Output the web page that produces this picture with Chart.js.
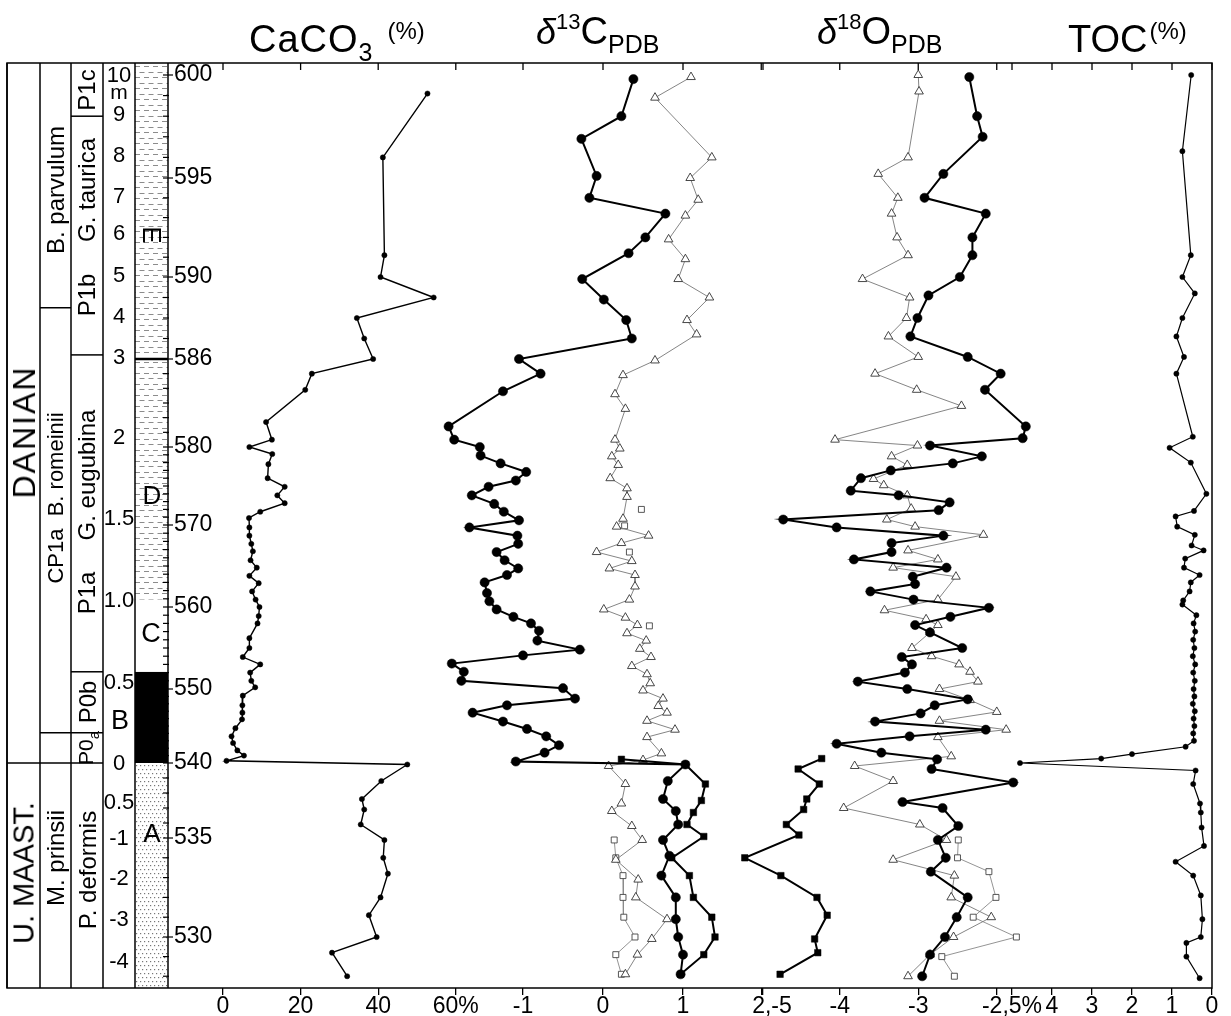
<!DOCTYPE html>
<html>
<head>
<meta charset="utf-8">
<script src="https://cdn.jsdelivr.net/npm/chart.js@4.4.1/dist/chart.umd.min.js"></script>
<style>
  body { margin: 0; background: #fff; overflow: hidden; }
  #fig { position: relative; width: 1231px; height: 1016px; font-family: 'Liberation Sans', Arial, sans-serif; color: #000; }
  #fig canvas { position: absolute; top: 0; }
  .lbl { position: absolute; white-space: nowrap; line-height: 1; }
  .title { position: absolute; top: 12px; font-size: 38px; line-height: 38px; white-space: nowrap; }
  .title sub { font-size: 25px; vertical-align: -9px; line-height: 0; }
  .title sup { font-size: 22px; vertical-align: 15px; line-height: 0; }
  .title .pc { font-size: 24px; vertical-align: 13px; margin-left: 8px; }
  .title i { font-size: 36px; }
</style>
</head>
<body>
<div id="fig">
  <canvas id="base" width="1231" height="1016" style="left:0"></canvas>
  <div class="title" style="left:249px; letter-spacing:1px">CaCO<sub>3</sub><span class="pc" style="margin-left:14px; letter-spacing:0">(%)</span></div>
  <div class="title" style="left:536px"><i>δ</i><sup>13</sup>C<sub>PDB</sub></div>
  <div class="title" style="left:817px"><i>δ</i><sup>18</sup>O<sub>PDB</sub></div>
  <div class="title" style="left:1068px">TOC<span class="pc" style="margin-left:2px">(%)</span></div>
</div>
<script>
// ---- data: [sample number, value] ----
const sampleTicks = [600, 595, 590, 586, 580, 570, 560, 550, 540, 535, 530];
const caco3Ticks = [0, 20, 40, 60];
const d13cTicks = [-1, 0, 1, 2];
const d18oTicks = [-5, -4, -3, -2];
const tocTicks = [5, 4, 3, 2, 1, 0];

const caco3 = [
  [599.1, 52.7], [596.0, 41.2], [591.1, 41.6], [590.0, 40.6], [589.0, 54.3], [588.0, 34.5],
  [587.0, 36.4], [586.0, 38.7], [585.0, 22.9], [583.9, 21.2], [581.7, 11.1], [580.5, 12.6],
  [580.0, 6.8], [579.1, 12.7], [577.8, 11.7], [576.0, 11.5], [574.9, 15.9], [573.8, 14.0],
  [572.8, 15.9], [571.7, 9.6], [570.9, 6.7], [569.7, 6.8], [568.7, 6.8], [567.7, 7.3],
  [566.8, 7.7], [565.7, 7.1], [564.8, 8.7], [563.8, 6.8], [562.9, 9.2], [561.9, 7.5],
  [560.9, 8.4], [560.0, 9.4], [558.9, 9.2], [558.0, 8.9], [556.2, 6.8], [555.0, 6.8],
  [553.9, 5.1], [553.0, 9.6], [552.0, 7.0], [551.0, 7.3], [550.2, 8.3], [549.1, 5.1],
  [547.8, 5.0], [546.8, 5.0], [545.9, 4.9], [544.7, 3.2], [543.6, 2.2], [542.7, 2.6],
  [541.7, 3.7], [541.0, 5.4], [540.3, 0.9], [539.9, 47.5], [538.8, 40.8], [537.6, 35.8],
  [536.9, 36.4], [535.9, 35.5], [534.9, 41.6], [534.0, 41.3], [533.2, 42.5], [532.0, 40.6],
  [531.1, 37.6], [530.0, 39.6], [529.2, 28.1], [528.0, 32.0]
];

const d13cCircles = [
  [599.8, 0.38], [598.0, 0.23], [596.9, -0.27], [595.1, -0.08], [594.0, -0.17], [593.2, 0.78],
  [592.0, 0.53], [591.2, 0.32], [589.9, -0.26], [588.9, 0.01], [587.9, 0.29], [587.0, 0.36],
  [586.0, -1.05], [585.0, -0.78], [583.8, -1.25], [581.4, -1.93], [580.5, -1.86], [580.0, -1.54],
  [578.9, -1.53], [577.9, -1.28], [576.8, -0.96], [575.7, -1.09], [574.9, -1.43], [573.8, -1.64],
  [572.7, -1.36], [571.7, -1.24], [570.6, -1.05], [569.7, -1.67], [568.7, -1.07], [567.7, -1.06],
  [566.7, -1.33], [565.7, -1.23], [564.7, -1.06], [563.9, -1.20], [563.0, -1.48], [561.7, -1.45],
  [560.7, -1.42], [559.7, -1.33], [558.8, -1.12], [558.0, -0.90], [557.1, -0.80], [555.9, -0.82],
  [554.8, -0.29], [554.1, -1.00], [553.1, -1.89], [552.1, -1.74], [551.0, -1.77], [550.1, -0.50],
  [548.7, -0.35], [547.8, -1.20], [546.8, -1.63], [545.6, -1.25], [544.6, -0.95], [543.6, -0.71],
  [542.4, -0.55], [541.4, -0.73], [540.2, -1.09], [539.9, 1.03], [538.8, 0.81], [537.6, 0.75],
  [536.8, 0.91], [535.9, 0.94], [534.9, 0.75], [534.1, 0.83], [533.1, 0.73], [532.0, 0.91],
  [530.9, 0.91], [530.0, 0.94], [529.1, 1.00], [528.1, 0.97]
];
const d13cSquares = [
  [540.5, 0.23], [539.9, 1.03], [538.6, 1.28], [537.5, 1.23], [536.7, 1.13], [535.9, 1.05],
  [535.1, 1.26], [534.0, 0.86], [533.1, 1.08], [532.0, 1.13], [531.0, 1.36], [530.0, 1.40],
  [529.1, 1.26], [528.1, 0.97]
];
const d13cTriangles = [
  [599.9, 1.10], [598.9, 0.65], [596.0, 1.36], [595.0, 1.09], [593.9, 1.19], [593.1, 1.03],
  [591.9, 0.82], [590.9, 1.03], [589.9, 0.94], [589.0, 1.33], [587.9, 1.05], [587.2, 1.17],
  [585.9, 0.65], [584.9, 0.25], [583.6, 0.15], [582.6, 0.28], [580.5, 0.15], [579.8, 0.21],
  [578.8, 0.11], [577.7, 0.19], [576.0, 0.09], [574.7, 0.30], [573.6, 0.30], [570.8, 0.25],
  [569.8, 0.17], [568.7, 0.57], [567.8, 0.23], [566.7, -0.08], [565.6, 0.36], [564.7, 0.08],
  [563.9, 0.40], [562.5, 0.40], [560.9, 0.33], [559.7, 0.01], [558.7, 0.28], [557.8, 0.43],
  [556.8, 0.30], [555.9, 0.54], [554.9, 0.46], [553.9, 0.60], [552.8, 0.36], [551.8, 0.55],
  [550.7, 0.59], [549.8, 0.50], [548.7, 0.75], [547.7, 0.69], [546.8, 0.80], [545.7, 0.55],
  [544.5, 0.90], [543.5, 0.55], [541.3, 0.73], [540.4, 0.50], [539.8, 0.07], [538.6, 0.28],
  [537.3, 0.23], [536.8, 0.11], [535.8, 0.36], [534.9, 0.49], [533.9, 0.16], [532.9, 0.44],
  [532.0, 0.41], [530.9, 0.80], [529.9, 0.61], [529.1, 0.43], [528.1, 0.28]
];
const d13cOpenSquares = [
  [534.9, 0.14], [534.0, 0.16], [533.1, 0.25], [532.0, 0.25], [531.0, 0.26], [530.0, 0.40],
  [529.1, 0.16], [528.1, 0.23]
];
const d13cLooseSquares = [[572.0, 0.48], [569.9, 0.27], [566.7, 0.33], [557.7, 0.58]];

const d18oCircles = [
  [599.9, -2.35], [598.0, -2.25], [597.0, -2.18], [595.2, -2.68], [594.0, -2.92], [593.2, -2.14],
  [592.0, -2.31], [591.1, -2.31], [590.0, -2.47], [589.1, -2.87], [588.0, -3.01], [587.1, -3.10],
  [586.1, -2.37], [585.0, -1.95], [583.9, -2.15], [581.4, -1.63], [580.6, -1.67], [580.1, -2.85],
  [578.8, -2.19], [577.9, -2.56], [577.0, -3.35], [576.0, -3.73], [574.4, -3.86], [573.8, -3.25],
  [572.9, -2.60], [571.9, -2.74], [570.7, -4.72], [569.7, -4.04], [568.7, -2.68], [567.8, -3.34],
  [566.7, -3.34], [565.8, -3.82], [564.8, -2.64], [563.7, -3.07], [562.8, -3.04], [561.9, -3.61],
  [560.9, -3.06], [559.9, -2.10], [558.8, -2.59], [557.8, -3.04], [556.9, -2.85], [555.0, -2.44],
  [553.9, -3.21], [553.0, -3.08], [552.0, -3.17], [550.9, -3.77], [550.0, -3.14], [548.6, -2.37],
  [547.8, -2.79], [546.7, -2.97], [545.6, -3.55], [544.5, -2.14], [543.6, -3.11], [542.6, -4.04],
  [541.4, -3.47], [540.5, -2.76], [539.6, -2.83], [538.7, -1.79], [537.4, -3.20], [537.0, -2.69],
  [535.8, -2.49], [534.9, -2.75], [534.0, -2.65], [533.3, -2.84], [532.0, -2.37], [531.0, -2.51],
  [530.0, -2.66], [529.1, -2.85], [528.0, -2.95]
];
const d18oTriangles = [
  [600.0, -3.00], [599.2, -2.99], [596.0, -3.13], [595.2, -3.51], [594.0, -3.26], [593.2, -3.34],
  [592.0, -3.27], [591.1, -3.13], [589.9, -3.71], [589.0, -3.11], [588.0, -3.15], [587.1, -3.38],
  [586.1, -3.00], [585.0, -3.55], [583.9, -3.02], [582.8, -2.45], [580.5, -4.06], [580.1, -3.01],
  [578.8, -3.34], [577.7, -3.14], [575.9, -3.57], [575.1, -3.44], [573.8, -3.14], [572.1, -3.09],
  [570.7, -3.40], [569.8, -3.04], [568.8, -2.17], [566.9, -3.13], [565.8, -2.75], [564.8, -3.32],
  [563.7, -2.52], [560.9, -2.75], [559.6, -3.43], [558.5, -2.90], [557.8, -2.75], [556.9, -2.85],
  [555.0, -3.08], [554.0, -2.83], [553.0, -2.48], [552.1, -2.34], [550.9, -2.24], [550.0, -2.73],
  [548.5, -2.34], [546.9, -2.00], [545.7, -2.73], [544.5, -1.88], [543.5, -2.75], [540.9, -2.58],
  [539.8, -3.81], [538.8, -3.32], [537.0, -3.95], [535.9, -2.98], [534.9, -2.64], [533.9, -3.32],
  [533.1, -2.54], [532.0, -2.58], [531.0, -2.07], [530.0, -2.55], [529.1, -2.85], [528.0, -3.13]
];
const d18oOpenSquares = [
  [534.9, -2.49], [534.0, -2.50], [533.3, -2.10], [532.0, -2.01], [531.0, -2.30], [530.0, -1.75],
  [529.0, -2.70], [528.0, -2.54]
];
const d18oSquares = [
  [540.6, -4.23], [539.6, -4.53], [538.6, -4.26], [537.6, -4.42], [536.9, -4.46], [535.9, -4.68],
  [535.2, -4.52], [534.0, -5.21], [533.1, -4.75], [532.0, -4.29], [531.1, -4.16], [529.9, -4.32],
  [529.2, -4.28], [528.1, -4.76]
];

const toc = [
  [600.0, 0.52], [596.3, 0.74], [591.1, 0.53], [590.0, 0.74], [589.2, 0.43], [588.0, 0.74],
  [587.1, 0.89], [586.1, 0.70], [585.0, 0.89], [580.7, 0.48], [579.9, 1.06], [578.0, 0.53],
  [574.0, 0.14], [571.8, 0.45], [571.1, 0.91], [569.8, 0.87], [568.8, 0.43], [567.5, 0.51],
  [566.9, 0.21], [565.9, 0.67], [564.8, 0.70], [563.9, 0.31], [563.0, 0.53], [561.9, 0.56],
  [560.8, 0.72], [560.3, 0.74], [559.0, 0.39], [558.0, 0.46], [557.0, 0.42], [556.0, 0.47],
  [555.0, 0.44], [554.0, 0.48], [553.0, 0.42], [552.0, 0.47], [551.0, 0.43], [550.0, 0.46],
  [549.0, 0.44], [548.0, 0.48], [547.0, 0.43], [546.0, 0.46], [545.0, 0.44], [544.0, 0.47],
  [543.0, 0.45], [542.2, 0.66], [541.2, 2.0], [540.6, 2.77], [540.0, 4.8], [539.5, 0.41],
  [538.6, 0.47], [537.3, 0.30], [536.7, 0.28], [535.7, 0.26], [534.6, 0.20], [533.8, 0.91],
  [533.1, 0.47], [532.1, 0.28], [530.9, 0.24], [530.0, 0.28], [529.7, 0.64], [529.0, 0.64],
  [527.9, 0.31]
];

// metre scale labels, placed at the sample they face
const metreLabels = [
  ['10', 600.0], ['m', 599.2], ['9', 598.1], ['8', 596.1], ['7', 594.1], ['6', 592.2],
  ['5', 590.1], ['4', 588.1], ['3', 586.1], ['2', 580.7], ['1.5', 570.9], ['1.0', 560.9],
  ['0.5', 550.9], ['0', 540.0], ['0.5', 537.4], ['-1', 535.0], ['-2', 533.0], ['-3', 530.9],
  ['-4', 528.8]
];
const lithoUnits = [
  { name: 'E', top: 600.6, bottom: 586, fill: 'dash' },
  { name: 'D', top: 586, bottom: 560.9, fill: 'dash' },
  { name: 'C', top: 560.9, bottom: 552.1, fill: 'none' },
  { name: 'B', top: 552.1, bottom: 540, fill: 'solid' },
  { name: 'A', top: 540, bottom: 527.4, fill: 'dot' }
];

// ---- layout ----
const PLOT_TOP = 63, PLOT_BOTTOM = 988, FRAME_LEFT = 7, AXIS_X = 168, FRAME_RIGHT = 1212;
const Y_MIN = 527.4, Y_MAX = 600.6;
const colX = [7, 40, 71, 103, 135, 168];
// the sample axis is not linear: where each labelled sample sits on the page
const knotSample = [600.6, 600, 595, 590, 586, 580, 570, 560, 550, 540, 535, 530, 527.4];
const knotPixel = [63, 75, 178, 277, 359, 447, 525, 607, 689, 763, 838, 937, 988];
const knotDec = knotPixel.map(p => (PLOT_BOTTOM - p) / (PLOT_BOTTOM - PLOT_TOP));
const NARROW = "'Liberation Sans Narrow', 'Liberation Sans', Arial, sans-serif";

class PiecewiseScale extends Chart.LinearScale {
  getPixelForValue(v) {
    if (v === null || v === undefined || isNaN(v)) return NaN;
    let i = 0;
    while (i < knotSample.length - 2 && v < knotSample[i + 1]) i++;
    const t = (v - knotSample[i]) / (knotSample[i + 1] - knotSample[i]);
    return this.getPixelForDecimal(knotDec[i] + t * (knotDec[i + 1] - knotDec[i]));
  }
  getValueForPixel(px) {
    const d = this.getDecimalForPixel(px);
    let i = 0;
    while (i < knotDec.length - 2 && d < knotDec[i + 1]) i++;
    const t = (d - knotDec[i]) / (knotDec[i + 1] - knotDec[i]);
    return knotSample[i] + t * (knotSample[i + 1] - knotSample[i]);
  }
}
PiecewiseScale.id = 'piecewise';
PiecewiseScale.defaults = Chart.LinearScale.defaults;
Chart.register(PiecewiseScale);

const fig = document.getElementById('fig');
function addLabel(html, x, y, size, rotate, family, spacing) {
  const el = document.createElement('div');
  el.className = 'lbl';
  el.innerHTML = html;
  el.style.left = x + 'px';
  el.style.top = y + 'px';
  el.style.fontSize = size + 'px';
  if (family) el.style.fontFamily = family;
  if (spacing) el.style.letterSpacing = spacing + 'px';
  el.style.transform = 'translate(-50%,-50%)' + (rotate ? ' rotate(' + rotate + 'deg)' : '');
  fig.appendChild(el);
}

function line(ctx, x0, y0, x1, y1) {
  ctx.beginPath(); ctx.moveTo(x0, y0); ctx.lineTo(x1, y1); ctx.stroke();
}

const columnPlugin = {
  id: 'column',
  afterDraw(chart) {
    const ctx = chart.ctx;
    const Y = v => chart.scales.y.getPixelForValue(v);
    const x0 = colX[4], x1 = colX[5];
    ctx.save();
    lithoUnits.forEach(u => {
      const top = Y(u.top), bot = Y(u.bottom);
      ctx.save();
      ctx.beginPath(); ctx.rect(x0, top, x1 - x0, bot - top); ctx.clip();
      if (u.fill === 'solid') {
        ctx.fillStyle = '#000'; ctx.fillRect(x0, top, x1 - x0, bot - top);
      } else if (u.fill === 'dash') {
        ctx.strokeStyle = '#8c8c8c'; ctx.lineWidth = 1;
        ctx.beginPath();
        for (let yy = top + 3, row = 0; yy < bot; yy += 5.5, row++) {
          for (let xx = x0 - 9 + (row % 2) * 4.5; xx < x1; xx += 9) {
            ctx.moveTo(xx, Math.round(yy) + 0.5); ctx.lineTo(xx + 5, Math.round(yy) + 0.5);
          }
        }
        ctx.stroke();
      } else if (u.fill === 'dot') {
        ctx.fillStyle = '#777';
        for (let yy = top + 2, row = 0; yy < bot; yy += 4, row++) {
          for (let xx = x0 + 1 + (row % 2) * 2; xx < x1; xx += 4) ctx.fillRect(xx, yy, 1.2, 1.2);
        }
      }
      ctx.restore();
    });
    ctx.strokeStyle = '#000';
    ctx.lineWidth = 1.5;
    ctx.strokeRect(FRAME_LEFT, PLOT_TOP, FRAME_RIGHT - FRAME_LEFT, PLOT_BOTTOM - PLOT_TOP);
    colX.forEach(x => line(ctx, x, PLOT_TOP, x, PLOT_BOTTOM));
    // zone boundaries in the stratigraphic columns
    [[colX[0], colX[3], 540], [colX[1], colX[2], 588.5], [colX[1], colX[3], 544.1],
     [colX[2], colX[3], 598], [colX[2], colX[3], 586.2], [colX[2], colX[3], 552.1]]
      .forEach(([a, b, s]) => line(ctx, a, Y(s), b, Y(s)));
    ctx.lineWidth = 2.5;
    line(ctx, x0, Y(586), x1, Y(586));
    // sample ticks
    ctx.lineWidth = 1.2;
    for (let s = 528; s <= 600; s++) {
      const major = sampleTicks.includes(s);
      line(ctx, AXIS_X - 5, Y(s), AXIS_X + (major ? 5 : 1), Y(s));
    }
    ctx.restore();
  }
};

const baseChart = new Chart(document.getElementById('base'), {
  type: 'scatter',
  data: { datasets: [] },
  options: {
    responsive: false, animation: false, events: [], devicePixelRatio: 1,
    layout: { padding: { left: AXIS_X, right: 1231 - FRAME_RIGHT, top: PLOT_TOP, bottom: 1016 - PLOT_BOTTOM } },
    plugins: { legend: { display: false }, tooltip: { enabled: false } },
    scales: {
      x: { display: false, min: 0, max: 1 },
      y: {
        type: 'piecewise', min: Y_MIN, max: Y_MAX, position: 'left',
        afterBuildTicks: s => { s.ticks = sampleTicks.map(v => ({ value: v })); },
        afterFit: s => { s.width = 0; },
        grid: { display: false, drawTicks: false },
        border: { display: false },
        ticks: { mirror: true, padding: 6, color: '#000', font: { family: NARROW, size: 23 } }
      }
    }
  },
  plugins: [columnPlugin]
});

const topTicks = {
  id: 'topTicks',
  afterDraw(chart) {
    const { ctx, chartArea, scales: { x } } = chart;
    ctx.save(); ctx.strokeStyle = '#000'; ctx.lineWidth = 1.3;
    x.ticks.forEach(t => line(ctx, x.getPixelForValue(t.value), chartArea.top, x.getPixelForValue(t.value), chartArea.top + 7));
    ctx.restore();
  }
};

const pts = arr => arr.map(([s, v]) => ({ x: v, y: s }));
const common = { showLine: true, clip: false, tension: 0 };
const styles = {
  small: { borderColor: '#000', borderWidth: 1.4, pointRadius: 2.6, pointBackgroundColor: '#000', pointBorderColor: '#000', pointBorderWidth: 0.5 },
  circle: { borderColor: '#000', borderWidth: 2, pointRadius: 4.6, pointBackgroundColor: '#000', pointBorderColor: '#000', pointBorderWidth: 0.5 },
  square: { borderColor: '#000', borderWidth: 2, pointStyle: 'rect', pointRadius: 4.6, pointBackgroundColor: '#000', pointBorderColor: '#000', pointBorderWidth: 0.5 },
  triangle: { borderColor: '#777', borderWidth: 0.9, pointStyle: 'triangle', pointRadius: 5, pointBackgroundColor: '#fff', pointBorderColor: '#333', pointBorderWidth: 0.9 },
  openSquare: { borderColor: '#888', borderWidth: 0.9, pointStyle: 'rect', pointRadius: 4.2, pointBackgroundColor: '#fff', pointBorderColor: '#444', pointBorderWidth: 0.9 }
};
const ds = (arr, style, extra) => Object.assign({ data: pts(arr) }, common, styles[style], extra || {});

function makePanel(p) {
  const pad = 40;
  const cv = document.createElement('canvas');
  cv.width = Math.round(p.right - p.left + 2 * pad);
  cv.height = 1016;
  cv.style.left = (p.left - pad) + 'px';
  fig.insertBefore(cv, fig.querySelector('.title'));
  return new Chart(cv, {
    type: 'scatter',
    data: { datasets: p.datasets },
    options: {
      responsive: false, animation: false, events: [], devicePixelRatio: 1,
      layout: { padding: { left: pad, right: cv.width - pad - (p.right - p.left), top: PLOT_TOP, bottom: 0 } },
      plugins: { legend: { display: false }, tooltip: { enabled: false } },
      scales: {
        x: {
          type: 'linear', min: p.min, max: p.max, reverse: !!p.reverse,
          afterBuildTicks: s => { s.ticks = p.ticks.map(v => ({ value: v })); },
          afterFit: s => { s.height = 1016 - PLOT_BOTTOM; },
          grid: { display: true, drawOnChartArea: false, drawTicks: true, tickLength: 7, color: '#000', lineWidth: 1.3 },
          border: { display: false },
          ticks: { color: '#000', padding: 0, maxRotation: 0, autoSkip: false, font: { family: NARROW, size: 23, lineHeight: 1 }, callback: p.label }
        },
        y: { type: 'piecewise', display: false, min: Y_MIN, max: Y_MAX }
      }
    },
    plugins: [topTicks]
  });
}

makePanel({
  min: 0, max: 60, left: 223, right: 455.8, ticks: caco3Ticks,
  label: v => (v === 60 ? '60%' : String(v)),
  datasets: [ds(caco3, 'small')]
});
makePanel({
  min: -2, max: 2, left: 443, right: 763, ticks: d13cTicks,
  label: v => (v === 2 ? '' : String(v)),
  datasets: [ds(d13cCircles, 'circle'), ds(d13cSquares, 'square'), ds(d13cTriangles, 'triangle'),
             ds(d13cOpenSquares, 'openSquare'), ds(d13cLooseSquares, 'openSquare', { showLine: false })]
});
makePanel({
  min: -5.5, max: -1.5, left: 722.25, right: 1036.25, ticks: d18oTicks,
  label: v => (v === -5 || v === -2 ? '' : String(v)),
  datasets: [ds(d18oCircles, 'circle'), ds(d18oSquares, 'square'), ds(d18oTriangles, 'triangle'),
             ds(d18oOpenSquares, 'openSquare')]
});
makePanel({
  min: 0, max: 5, reverse: true, left: 1012, right: 1212, ticks: tocTicks,
  label: v => (v === 5 ? '' : String(v)),
  datasets: [ds(toc, 'small', { borderWidth: 1.2 })]
});

// shared tick labels where two scales meet
addLabel('2,-5', 772, 1005, 23, 0, NARROW);
addLabel('-2,5%', 1012, 1005, 23, 0, NARROW);

// metre scale
const yScale = baseChart.scales.y;
metreLabels.forEach(([t, s]) => addLabel(t, 119, yScale.getPixelForValue(s), t === 'm' ? 21 : 22, 0, NARROW));
addLabel('B', 120, 720, 27, 0);

// lithological units
addLabel('E', 152, 235, 26, 90);
addLabel('D', 152, 495, 26, 0);
addLabel('C', 151, 633, 27, 0);
addLabel('A', 152, 833, 26, 0);

// stages and zones
addLabel('DANIAN', 24, 432, 32, -90, null, 2);
addLabel('U. MAAST.', 24, 873, 29, -90);
addLabel('B. parvulum', 56, 190, 24, -90);
addLabel('CP1a&nbsp; B. romeinii', 56, 498, 22, -90);
addLabel('M. prinsii', 56, 858, 24, -90);
addLabel('P1c', 87, 90, 24, -90);
addLabel('G. taurica', 87, 190, 24, -90);
addLabel('P1b', 87, 295, 24, -90);
addLabel('G. eugubina', 87, 475, 24, -90);
addLabel('P1a', 87, 593, 24, -90);
addLabel('P0b', 88, 702, 24, -90);
addLabel('P0<sub style="font-size:15px">a</sub>', 88, 748, 21, -90);
addLabel('P. deformis', 88, 870, 24, -90);
</script>
</body>
</html>
